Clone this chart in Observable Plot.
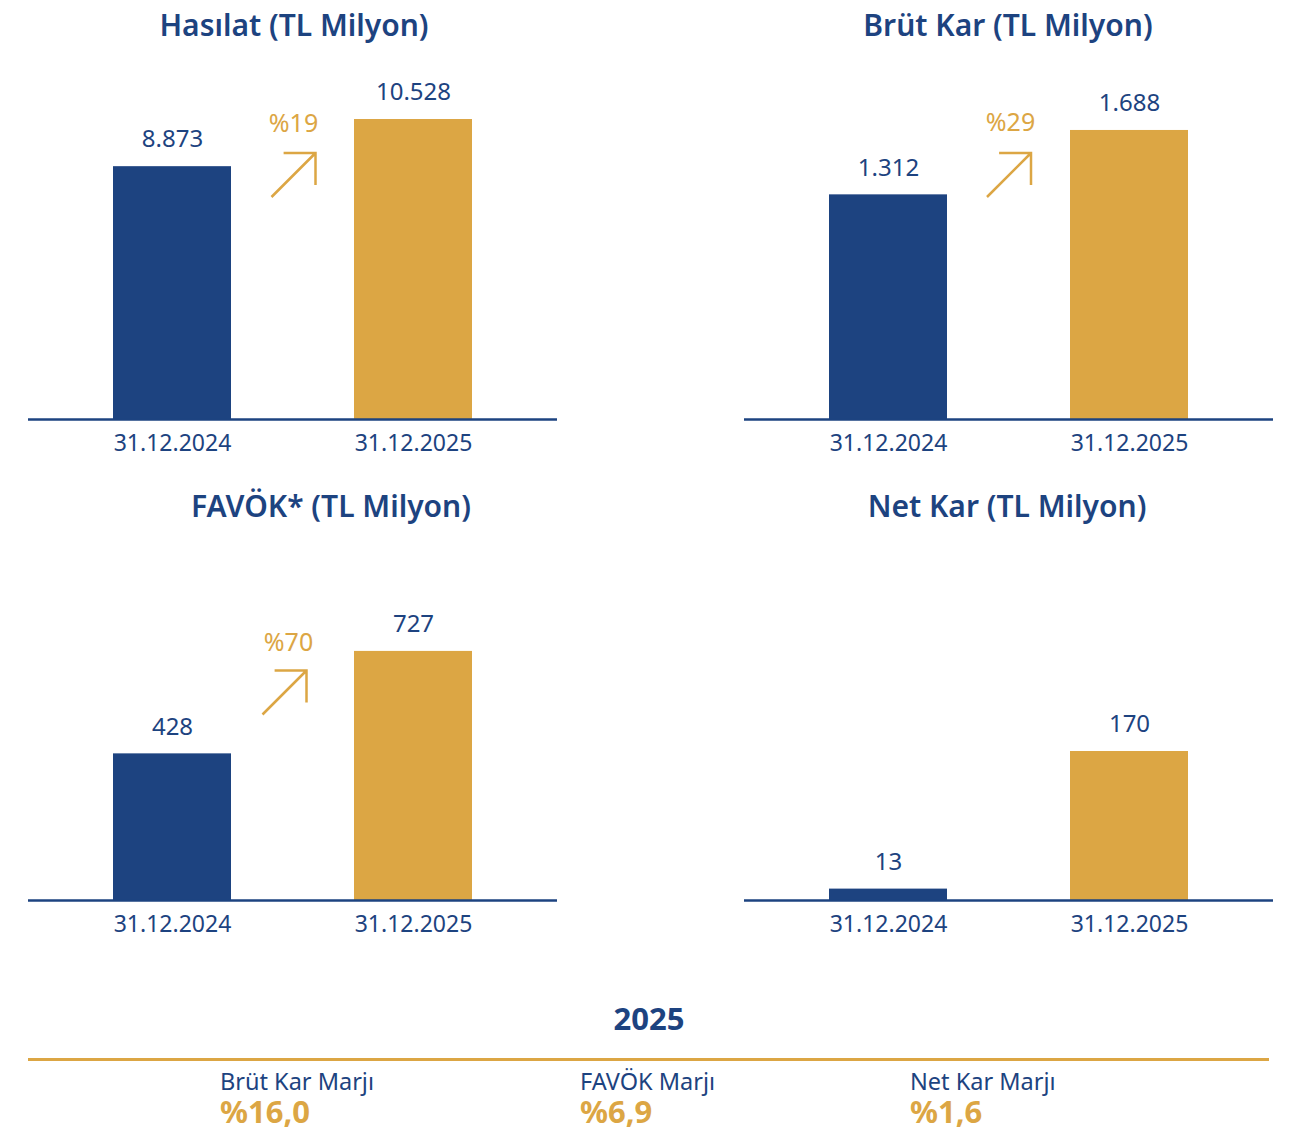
<!DOCTYPE html>
<html>
<head>
<meta charset="utf-8">
<script src="https://cdn.jsdelivr.net/npm/d3@7"></script>
<script src="https://cdn.jsdelivr.net/npm/@observablehq/plot@0.6"></script>
<style>
  body { margin: 0; background: #fff; font-family: "Noto Sans", sans-serif; }
  #root { position: relative; width: 1301px; height: 1132px; overflow: hidden; }
  .title { position: absolute; font-weight: 600; font-size: 30px; line-height: 1; color: #1d4380; transform: translate(-50%, -50%); white-space: nowrap; }
  .panel { position: absolute; }
  .panel svg { overflow: visible; }
  .year { position: absolute; font-weight: 700; font-size: 31px; line-height: 1; color: #1d4380; transform: translate(-50%, -50%); }
  .rule { position: absolute; background: #dca644; }
  .mlabel { position: absolute; font-size: 23.5px; line-height: 1; color: #1d4380; transform: translateY(-50%); white-space: nowrap; }
  .mvalue { position: absolute; font-size: 31px; line-height: 1; font-weight: 700; color: #dca644; transform: translateY(-50%); white-space: nowrap; }
</style>
</head>
<body>
<div id="root"></div>
<script>
// ---------- data ----------
const periods = ["31.12.2024", "31.12.2025"];
const titles = ["Hasılat (TL Milyon)", "Brüt Kar (TL Milyon)", "FAVÖK* (TL Milyon)", "Net Kar (TL Milyon)"];
const hasilat = [8873, 10528];
const brutKar = [1312, 1688];
const favok = [428, 727];
const netKar = [13, 170];
const growth = ["%19", "%29", "%70", null];
const marginYear = "2025";
const marginLabels = ["Brüt Kar Marjı", "FAVÖK Marjı", "Net Kar Marjı"];
const marginValues = ["%16,0", "%6,9", "%1,6"];

// ---------- style / layout ----------
const navy = "#1d4380";
const gold = "#dca644";
const fmt = d3.formatLocale({decimal: ",", thousands: ".", grouping: [3], currency: ["", ""]}).format(",d");

const series = [hasilat, brutKar, favok, netKar];
const layout = [
  {left: 0,   top: 50,  width: 650, ml: 28, mr: 93, yMax: 12950, tx: 294,  ty: 25,  adx: 0.5, ady: 124.5, pdx: 0.5, pdy: 73},
  {left: 650, top: 50,  width: 651, ml: 94, mr: 28, yMax: 2155,  tx: 1008, ty: 25,  adx: 0,   ady: 124.5, pdx: 1.5, pdy: 72},
  {left: 0,   top: 531, width: 650, ml: 28, mr: 93, yMax: 1077,  tx: 331,  ty: 506, adx: -8.5, ady: 161,  pdx: -4.5, pdy: 111},
  {left: 650, top: 531, width: 651, ml: 94, mr: 28, yMax: 421,   tx: 1007, ty: 506, adx: 0,   ady: 161,   pdx: 0,   pdy: 111}
];

const arrowSymbol = {
  draw(ctx, size) {
    const r = Math.sqrt(size / Math.PI);
    const w = 1.45 * r;
    ctx.moveTo(-r, r);
    ctx.lineTo(r, -r);
    ctx.moveTo(r - w, -r);
    ctx.lineTo(r, -r);
    ctx.lineTo(r, -r + w);
  }
};

const root = document.getElementById("root");

series.forEach((vals, i) => {
  const L = layout[i];
  const data = periods.map((p, j) => ({period: p, value: vals[j]}));

  const t = document.createElement("div");
  t.className = "title";
  t.style.left = L.tx + "px";
  t.style.top = L.ty + "px";
  t.textContent = titles[i];
  root.appendChild(t);

  const marks = [
    Plot.barY(data, {x: "period", y: "value", fill: "period"}),
    Plot.ruleY([0], {stroke: navy, strokeWidth: 2.5}),
    Plot.text(data, {x: "period", y: "value", text: d => fmt(d.value), dy: -27, fontSize: 24, fill: navy, lineAnchor: "middle"}),
    Plot.axisX({tickSize: 0, tickPadding: 15, fontSize: 23, fill: navy, label: null})
  ];
  if (growth[i]) {
    marks.push(Plot.dot([growth[i]], {frameAnchor: "top", dx: L.adx, dy: L.ady, symbol: arrowSymbol, r: 22, stroke: gold, strokeWidth: 2.5, fill: "none"}));
    marks.push(Plot.text([growth[i]], {frameAnchor: "top", text: d => d, dx: L.pdx, dy: L.pdy, fill: gold, fontSize: 25, lineAnchor: "middle", textAnchor: "middle"}));
  }

  const chart = Plot.plot({
    width: L.width,
    height: 420,
    marginTop: 0,
    marginBottom: 51,
    marginLeft: L.ml,
    marginRight: L.mr,
    x: {domain: periods, paddingInner: 0.51, paddingOuter: 0.35, axis: null},
    y: {domain: [0, L.yMax], axis: null},
    color: {domain: periods, range: [navy, gold]},
    style: {fontFamily: "Noto Sans", color: navy, background: "transparent"},
    marks
  });

  const div = document.createElement("div");
  div.className = "panel";
  div.style.left = L.left + "px";
  div.style.top = L.top + "px";
  div.appendChild(chart);
  root.appendChild(div);
});

// ---------- bottom margins section ----------
const y = document.createElement("div");
y.className = "year";
y.style.left = "649px";
y.style.top = "1018px";
y.textContent = marginYear;
root.appendChild(y);

const r = document.createElement("div");
r.className = "rule";
r.style.left = "28px";
r.style.top = "1057.5px";
r.style.width = "1241px";
r.style.height = "3px";
root.appendChild(r);

const mLeft = [220, 580, 910];
marginLabels.forEach((lab, i) => {
  const a = document.createElement("div");
  a.className = "mlabel";
  a.style.left = mLeft[i] + "px";
  a.style.top = "1082px";
  a.textContent = lab;
  root.appendChild(a);
  const b = document.createElement("div");
  b.className = "mvalue";
  b.style.left = mLeft[i] + "px";
  b.style.top = "1111px";
  b.textContent = marginValues[i];
  root.appendChild(b);
});
</script>
</body>
</html>
